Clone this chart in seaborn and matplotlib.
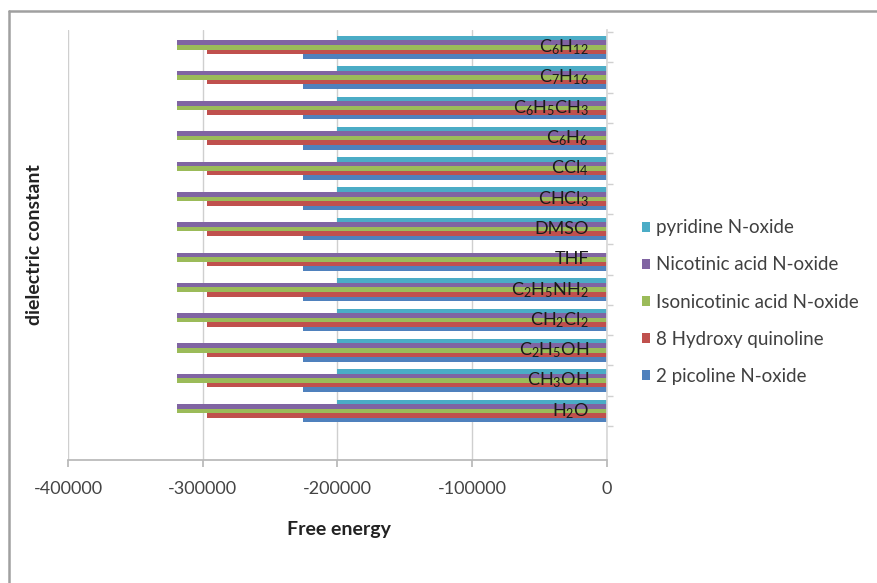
import numpy as np
import pandas as pd
import matplotlib
matplotlib.use("Agg")
import matplotlib.pyplot as plt
from matplotlib.lines import Line2D
from matplotlib.ticker import FixedLocator
from matplotlib.transforms import offset_copy
import seaborn as sns

# ---- data ----
solvents = [r"C$_6$H$_{12}$", r"C$_7$H$_{16}$", r"C$_6$H$_5$CH$_3$", r"C$_6$H$_6$",
            r"CCl$_4$", r"CHCl$_3$", "DMSO", "THF", r"C$_2$H$_5$NH$_2$",
            r"CH$_2$Cl$_2$", r"C$_2$H$_5$OH", r"CH$_3$OH", r"H$_2$O"]
compounds = ["pyridine N-oxide", "Nicotinic acid N-oxide", "Isonicotinic acid N-oxide",
             "8 Hydroxy quinoline", "2 picoline N-oxide"]
pyridine_n_oxide = [-200700] * 7 + [np.nan] + [-200700] * 5
nicotinic_acid_n_oxide = [-319300] * 13
isonicotinic_acid_n_oxide = [-318800] * 13
hydroxy_quinoline = [-296700] * 13
picoline_n_oxide = [-225600] * 13
x_ticks = [-400000, -300000, -200000, -100000, 0]
x_tick_labels = ["-400000", "-300000", "-200000", "-100000", "0"]

colors = ["#4BACC6", "#8064A2", "#9BBB59", "#C0504D", "#4F81BD"]

series = [pyridine_n_oxide, nicotinic_acid_n_oxide, isonicotinic_acid_n_oxide,
          hydroxy_quinoline, picoline_n_oxide]
rows = []
for comp, vals in zip(compounds, series):
    for s, v in zip(solvents, vals):
        if not np.isnan(v):
            rows.append({"solvent": s, "compound": comp, "value": v})
df = pd.DataFrame(rows)

sns.set_theme(style="white")
plt.rcParams["font.family"] = ["Lato", "DejaVu Sans"]
plt.rcParams["mathtext.default"] = "regular"
plt.rcParams["axes.unicode_minus"] = False

fig, ax = plt.subplots(figsize=(8.77, 5.83), dpi=100)
fig.subplots_adjust(left=68/877, right=607/877, top=1-30/583, bottom=1-460/583)

sns.barplot(data=df, x="value", y="solvent", hue="compound", order=solvents,
            hue_order=compounds, palette=colors, orient="h", width=0.75,
            errorbar=None, linewidth=0, saturation=1, ax=ax)

ax.set_xlim(-400000, 0)
ax.set_ylim(13.62, -0.57)
ax.set_xticks(x_ticks)
ax.set_xticklabels(x_tick_labels, fontsize=13, color="#444444")
ax.xaxis.grid(True, color="#cfcfcf", linewidth=1)
ax.set_axisbelow(True)

for side in ["top", "right"]:
    ax.spines[side].set_visible(False)
ax.spines["bottom"].set_color("#b8b8b8")
ax.spines["left"].set_position(("data", 0))
ax.spines["left"].set_color("#d8d8d8")
ax.tick_params(axis="x", bottom=True, length=5, color="#b8b8b8", pad=10)
ax.tick_params(axis="y", which="major", length=0, labelleft=False)
ax.yaxis.set_minor_locator(FixedLocator(np.arange(-0.5, 13.0, 1.0)))
ax.tick_params(axis="y", which="minor", left=True, direction="in", length=4, color="#d0d0d0")
ax.set_xlabel("")
ax.set_ylabel("")

# category labels drawn next to the category axis (at x = 0), above the bars
lab_tr = offset_copy(ax.transData, fig=fig, x=-13, y=0, units="points")
for i, s in enumerate(solvents):
    ax.text(0, i, s, transform=lab_tr, ha="right", va="center", fontsize=13,
            color="#1a1a1a", zorder=10, clip_on=False)

leg = ax.legend(loc="center left", bbox_to_anchor=(0.723, 1-302/583),
                bbox_transform=fig.transFigure, frameon=False, fontsize=13.5,
                handlelength=0.45, handleheight=0.45, handletextpad=0.3,
                labelspacing=1.07, labelcolor="#404040", borderaxespad=0)

fig.text(339/877, 1-530/583, "Free energy", ha="center", va="center",
         fontsize=14, fontweight="bold", color="#222222")
fig.text(35/877, 1-245/583, "dielectric constant", ha="center", va="center",
         rotation=90, fontsize=14, fontweight="bold", color="#222222")

fig.add_artist(Line2D([8.5/877, 8.5/877], [0, 1-10.5/583], transform=fig.transFigure,
                      color="#a0a0a0", linewidth=1.8))
fig.add_artist(Line2D([8.5/877, 1], [1-10.5/583, 1-10.5/583], transform=fig.transFigure,
                      color="#a0a0a0", linewidth=1.8))

fig.savefig("out.png", dpi=100)
